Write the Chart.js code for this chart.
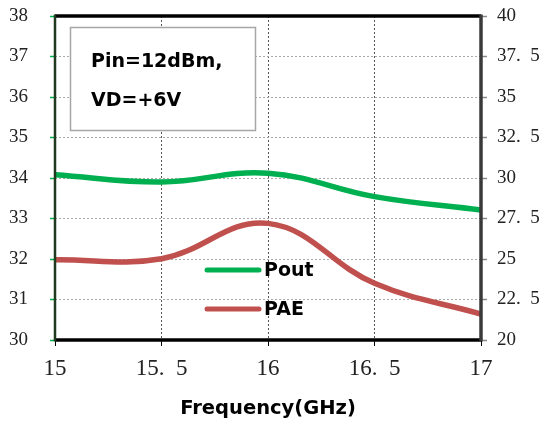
<!DOCTYPE html>
<html>
<head>
<meta charset="utf-8">
<script src="https://cdn.jsdelivr.net/npm/chart.js@4.4.0/dist/chart.umd.min.js"></script>
<style>
  html, body { margin: 0; padding: 0; background: #ffffff; }
  #wrap { width: 545px; height: 423px; position: relative; }
</style>
</head>
<body>
<div id="wrap"><canvas id="c" width="545" height="423"></canvas></div>
<script>
// Frequency sweep (GHz)
const frequency = [15, 15.5, 16, 16.5, 17];
// Output power (dBm), left axis
const pout = [34.08, 33.9, 34.12, 33.54, 33.21];
// Power-added efficiency (%), right axis
const pae = [24.95, 25.02, 27.2, 23.5, 21.6];

const seriesLabels = ['Pout', 'PAE'];
const infoLines = ['Pin=12dBm,', 'VD=+6V'];
const xTitle = 'Frequency(GHz)';

const serif = "'Liberation Serif', 'Times New Roman', serif";
const boldSans = "bold 19px 'DejaVu Sans', sans-serif";
// decimal ticks are written with a gap after the point, e.g. "37. 5"
const fmtWide = v => String(v).replace('.', '.  ');
const fmtNarrow = v => String(v).replace('.', '.\u2002');

const toPoints = (xs, ys) => xs.map((x, i) => ({ x: x, y: ys[i] }));

// vertical axes should not reserve extra room for their end labels
const noEndPadding = s => { s.paddingTop = 0; s.paddingBottom = 0; };

// Frame around the plot area plus the annotation box and in-plot legend
const decorations = {
  id: 'decorations',
  afterDatasetsDraw(chart) {
    const { ctx, chartArea: a } = chart;
    ctx.save();
    // frame
    ctx.lineCap = 'butt';
    ctx.strokeStyle = '#000';
    ctx.lineWidth = 3.5;
    ctx.beginPath(); ctx.moveTo(a.left, a.top); ctx.lineTo(a.right, a.top); ctx.stroke();
    ctx.beginPath(); ctx.moveTo(a.left, a.bottom); ctx.lineTo(a.right + 1, a.bottom); ctx.stroke();
    ctx.strokeStyle = '#3a3a3a';
    ctx.lineWidth = 3.5;
    ctx.beginPath(); ctx.moveTo(a.right, a.top - 1.5); ctx.lineTo(a.right, a.bottom + 1.5); ctx.stroke();
    ctx.strokeStyle = '#1f3a1f';
    ctx.lineWidth = 2.5;
    ctx.beginPath(); ctx.moveTo(a.left, a.top - 1.5); ctx.lineTo(a.left, a.bottom + 1.5); ctx.stroke();

    // condition box
    ctx.fillStyle = '#fff';
    ctx.fillRect(70.5, 27.5, 185, 103);
    ctx.strokeStyle = '#a6a6a6';
    ctx.lineWidth = 1.5;
    ctx.strokeRect(70.5, 27.5, 185, 103);
    ctx.fillStyle = '#000';
    ctx.font = boldSans;
    ctx.textBaseline = 'middle';
    ctx.textAlign = 'left';
    ctx.fillText(infoLines[0], 91, 62);
    ctx.fillText(infoLines[1], 91, 101);

    // legend
    const rows = [270, 309];
    chart.data.datasets.forEach((ds, i) => {
      ctx.strokeStyle = ds.borderColor;
      ctx.lineWidth = 5;
      ctx.lineCap = 'round';
      ctx.beginPath(); ctx.moveTo(207, rows[i]); ctx.lineTo(259, rows[i]); ctx.stroke();
      ctx.fillStyle = '#000';
      ctx.font = boldSans;
      ctx.fillText(ds.label, 264, rows[i] + 1);
    });
    ctx.restore();
  }
};

new Chart(document.getElementById('c'), {
  type: 'line',
  data: {
    datasets: [
      {
        label: seriesLabels[0],
        data: toPoints(frequency, pout),
        borderColor: '#00b050',
        borderWidth: 5.5,
        pointRadius: 0,
        tension: 0.4,
        yAxisID: 'y'
      },
      {
        label: seriesLabels[1],
        data: toPoints(frequency, pae),
        borderColor: '#c0504d',
        borderWidth: 5.5,
        pointRadius: 0,
        tension: 0.4,
        yAxisID: 'y1'
      }
    ]
  },
  plugins: [decorations],
  options: {
    responsive: false,
    animation: false,
    layout: { padding: { top: 16, bottom: 2, left: 0, right: 0 } },
    plugins: { legend: { display: false }, tooltip: { enabled: false } },
    scales: {
      x: {
        type: 'linear',
        min: 15, max: 17,
        ticks: { stepSize: 0.5, color: '#222', font: { family: serif, size: 23 }, padding: 9, callback: v => fmtWide(v) },
        grid: { color: '#555', tickLength: 6, tickColor: '#000', tickBorderDash: [], lineWidth: 1 },
        border: { display: false, dash: [2, 2] },
        title: { display: true, text: xTitle, color: '#000', font: { family: "'DejaVu Sans', sans-serif", size: 19.5, weight: 'bold' }, padding: { top: 6, bottom: 0 } },
        afterFit(s) { s.height = 81; s.paddingLeft = 0; s.paddingRight = 0; }
      },
      y: {
        position: 'left',
        min: 30, max: 38,
        ticks: { stepSize: 1, color: '#222', font: { family: serif, size: 19 }, padding: 22, callback: v => fmtNarrow(v) },
        grid: { color: '#aaa', tickLength: 5, tickColor: '#00b050', tickBorderDash: [], tickWidth: 1.5 },
        border: { display: false, dash: [2, 2] },
        afterFit(s) { s.width = 55; noEndPadding(s); }
      },
      y1: {
        position: 'right',
        min: 20, max: 40,
        ticks: { stepSize: 2.5, color: '#222', font: { family: serif, size: 19 }, padding: 10, callback: v => fmtNarrow(v) },
        grid: { drawOnChartArea: false, tickLength: 6, tickColor: '#888', tickWidth: 1.5 },
        border: { display: false },
        afterFit(s) { s.width = 64; noEndPadding(s); }
      }
    }
  }
});
</script>
</body>
</html>
